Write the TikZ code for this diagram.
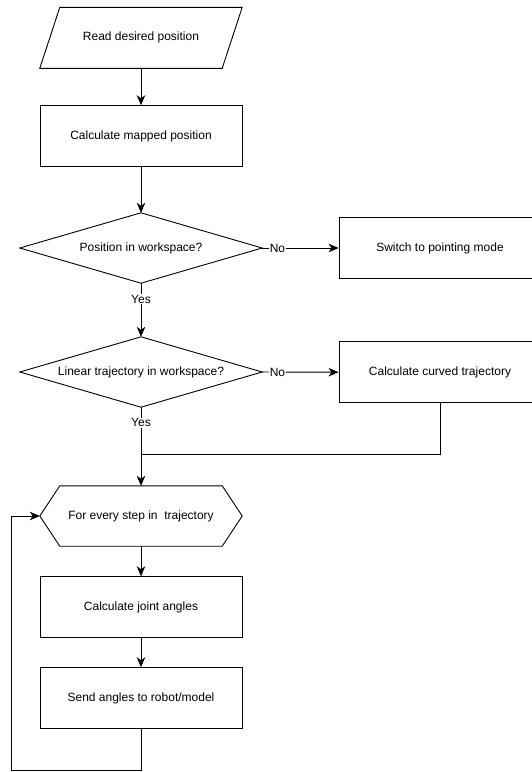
\documentclass[tikz,border=0pt]{standalone}
\usepackage{fontspec}
\setmainfont{Liberation Sans}
\usetikzlibrary{arrows.meta,calc}
\begin{document}
\begin{tikzpicture}[x=1pt,y=-1pt,
  every node/.style={font=\fontsize{12}{14}\selectfont, text=black},
  shapebox/.style={minimum width=202pt, minimum height=60.6pt, inner sep=0pt},
  box/.style={shapebox, draw, line width=0.9pt},
  dia/.style={minimum width=242pt, minimum height=70pt, inner sep=0pt},
  outline/.style={draw, line width=0.9pt, line join=miter},
  line/.style={line width=0.9pt},
  conn/.style={line width=0.9pt, -{Stealth[length=10pt,width=8.5pt,inset=3pt]}},
  lbl/.style={fill=white, inner sep=1pt}
]
\useasboundingbox (0,0) rectangle (531,772);

% nodes
\node[shapebox] (read) at (141,37.8) {Read desired position};
\node[box] (map) at (141,136) {Calculate mapped position};
\node[dia] (pos) at (141,248) {Position in workspace?};
\node[box] (switch) at (440,248) {Switch to pointing mode};
\node[dia] (lin) at (141,372) {Linear trajectory in workspace?};
\node[box] (curved) at (440,372.2) {Calculate curved trajectory};
\node[shapebox, minimum height=60pt] (every) at (141,516) {For every step in\ \ trajectory};
\node[box] (joint) at (141,607) {Calculate joint angles};
\node[box] (send) at (141,698) {Send angles to robot/model};

% outlines of the parallelogram, diamonds and hexagon
\draw[outline] ($(read.north west)+(20,0)$) -- (read.north east)
  -- ($(read.south east)+(-20,0)$) -- (read.south west) -- cycle;
\draw[outline] (pos.west) -- (pos.north) -- (pos.east) -- (pos.south) -- cycle;
\draw[outline] (lin.west) -- (lin.north) -- (lin.east) -- (lin.south) -- cycle;
\draw[outline] (every.west) -- ($(every.north west)+(20,0)$)
  -- ($(every.north east)+(-20,0)$) -- (every.east)
  -- ($(every.south east)+(-20,0)$) -- ($(every.south west)+(20,0)$) -- cycle;

% helper coordinates
\coordinate (join) at (141,454.3);
\coordinate (loopb) at (11.5,770);

% connectors
\draw[conn] (read.south) -- (map.north);
\draw[conn] (map.south) -- (pos.north);
\draw[conn] (pos.east) -- node[lbl,pos=0.2] {No} (switch.west);
\draw[conn] (pos.south) -- node[lbl,pos=0.3] {Yes} (lin.north);
\draw[conn] (lin.east) -- node[lbl,pos=0.2] {No} (curved.west);
\draw[conn] (lin.south) -- node[lbl,pos=0.2] {Yes} (every.north);
\draw[line] (curved.south) |- (join);
\draw[conn] (every.south) -- (joint.north);
\draw[conn] (joint.south) -- (send.north);
\draw[conn] (send.south) |- (loopb) |- (every.west);
\end{tikzpicture}
\end{document}
